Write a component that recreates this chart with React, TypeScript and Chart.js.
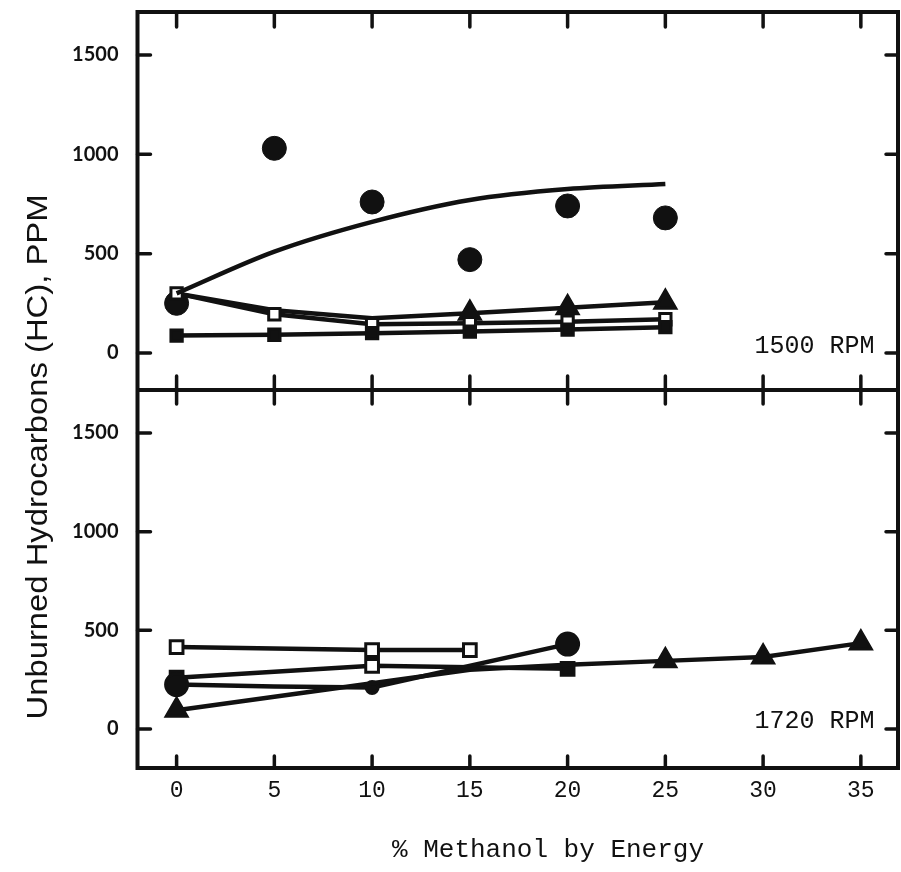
import { useEffect, useRef } from "react";
import { Chart, registerables } from "chart.js";

Chart.register(...registerables);

// ---- axis values ----
const methanolPct = [0, 5, 10, 15, 20, 25, 30, 35];
const yTickValues = [0, 500, 1000, 1500];

// ---- 1500 RPM panel (top) ----
const x1500 = [0, 5, 10, 15, 20, 25];
const circles1500 = [250, 1030, 760, 470, 740, 680];
const circleFit1500 = [300, 510, 660, 770, 825, 850];
const triangles1500 = [300, 215, 175, 200, 228, 255];
const openSquares1500 = [300, 195, 145, 150, 158, 170];
const filledSquares1500 = [88, 92, 100, 108, 118, 130];

// ---- 1720 RPM panel (bottom) ----
const xOpenSquares1720 = [0, 10, 15];
const openSquares1720 = [415, 400, 400];
const xFilledSquares1720 = [0, 10, 20];
const filledSquares1720 = [260, 320, 305];
const xCircles1720 = [0, 5, 10, 20];
const circles1720 = [225, 215, 210, 430];
const xTriangles1720 = [0, 15, 20, 25, 30, 35];
const triangles1720 = [95, 300, 325, 345, 365, 435];

const INK = "#111";

const pts = (xs: number[], ys: number[]) => xs.map((x, i) => ({ x, y: ys[i] }));

const framePlugin = {
  id: "frame",
  afterDraw(chart: any) {
    const { ctx, chartArea: a, scales } = chart;
    const xs = scales.x;
    const yt = scales.yTop;
    const yb = scales.yBot;
    const mid = yt.bottom;
    ctx.save();
    ctx.strokeStyle = INK;
    ctx.lineWidth = 4;
    ctx.lineJoin = "miter";
    ctx.strokeRect(a.left, a.top, a.right - a.left, a.bottom - a.top);
    ctx.beginPath();
    ctx.moveTo(a.left, mid);
    ctx.lineTo(a.right, mid);
    ctx.stroke();

    ctx.lineCap = "round";
    ctx.lineWidth = 3.5;
    ctx.beginPath();
    for (const v of methanolPct) {
      const px = xs.getPixelForValue(v);
      ctx.moveTo(px, a.top);
      ctx.lineTo(px, a.top + 15);
      ctx.moveTo(px, mid - 14);
      ctx.lineTo(px, mid + 14);
      ctx.moveTo(px, a.bottom);
      ctx.lineTo(px, a.bottom - 12);
    }
    for (const s of [yt, yb]) {
      for (const v of yTickValues) {
        const py = s.getPixelForValue(v);
        ctx.moveTo(a.left, py);
        ctx.lineTo(a.left + 13, py);
        ctx.moveTo(a.right, py);
        ctx.lineTo(a.right - 12, py);
      }
    }
    ctx.stroke();

    // panel labels
    ctx.fillStyle = INK;
    ctx.font = "25px 'Liberation Mono', 'DejaVu Sans Mono', monospace";
    ctx.textAlign = "right";
    ctx.textBaseline = "alphabetic";
    const rx = xs.getPixelForValue(35.7);
    ctx.fillText("1500 RPM", rx, yt.getPixelForValue(0));
    ctx.fillText("1720 RPM", rx, yb.getPixelForValue(5));

    // x title
    ctx.font = "26px 'Liberation Mono', 'DejaVu Sans Mono', monospace";
    ctx.textAlign = "center";
    ctx.textBaseline = "middle";
    ctx.fillText("% Methanol by Energy", 548, 850);

    // y title
    const title = "Unburned Hydrocarbons (HC), PPM";
    ctx.font = "30px 'Liberation Sans', Arial, sans-serif";
    const w = ctx.measureText(title).width;
    ctx.translate(39, 457);
    ctx.rotate(-Math.PI / 2);
    ctx.scale(525 / w, 1);
    ctx.fillText(title, 0, 0);
    ctx.restore();
  },
};

const yAxisCommon = {
  type: "linear",
  position: "left",
  stack: "panels",
  stackWeight: 1,
  grid: { display: false, drawTicks: false },
  border: { display: false },
  afterBuildTicks: (s: any) => {
    s.ticks = yTickValues.map((v) => ({ value: v }));
  },
  afterFit: (s: any) => {
    s.width = 137.5;
    s.paddingTop = 0;
    s.paddingBottom = 0;
  },
  ticks: {
    padding: 19,
    color: INK,
    callback: (v: number) => String(v),
    font: { family: "Lato, 'DejaVu Sans', sans-serif", size: 20, weight: "bold" },
  },
};

export default function App() {
  const ref = useRef<HTMLCanvasElement>(null);
  useEffect(() => {
    const canvas = ref.current!;
    const lineBase = {
      showLine: true,
      borderColor: INK,
      borderWidth: 4.5,
      pointBorderColor: INK,
      pointBorderWidth: 3,
    };
    const chart = new Chart(canvas, {
      type: "scatter",
      data: {
        datasets: [
          {
            ...lineBase,
            label: "fit 1500",
            data: pts(x1500, circleFit1500),
            yAxisID: "yTop",
            pointRadius: 0,
            cubicInterpolationMode: "monotone",
          },
          {
            ...lineBase,
            label: "filled squares 1500",
            data: pts(x1500, filledSquares1500),
            yAxisID: "yTop",
            pointStyle: "rect",
            pointRadius: 8,
            pointBackgroundColor: INK,
          },
          {
            ...lineBase,
            label: "open squares 1500",
            data: pts(x1500, openSquares1500),
            yAxisID: "yTop",
            pointStyle: "rect",
            pointRadius: 8,
            pointBackgroundColor: "#fff",
          },
          {
            ...lineBase,
            label: "triangles 1500",
            data: pts(x1500, triangles1500),
            yAxisID: "yTop",
            pointStyle: "triangle",
            pointRadius: [0, 0, 0, 12, 12, 12],
            pointBackgroundColor: INK,
          },
          {
            label: "circles 1500",
            data: pts(x1500, circles1500),
            yAxisID: "yTop",
            showLine: false,
            pointStyle: "circle",
            pointRadius: 12,
            pointBackgroundColor: INK,
            pointBorderColor: INK,
          },
          {
            ...lineBase,
            label: "triangles 1720",
            data: pts(xTriangles1720, triangles1720),
            yAxisID: "yBot",
            pointStyle: "triangle",
            pointRadius: [12, 0, 0, 12, 12, 12],
            pointBackgroundColor: INK,
          },
          {
            ...lineBase,
            label: "circles 1720",
            data: pts(xCircles1720, circles1720),
            yAxisID: "yBot",
            pointStyle: "circle",
            pointRadius: [11, 0, 6, 11],
            pointBackgroundColor: INK,
          },
          {
            ...lineBase,
            label: "filled squares 1720",
            data: pts(xFilledSquares1720, filledSquares1720),
            yAxisID: "yBot",
            pointStyle: "rect",
            pointRadius: 9,
            pointBackgroundColor: [INK, "#fff", INK],
          },
          {
            ...lineBase,
            label: "open squares 1720",
            data: pts(xOpenSquares1720, openSquares1720),
            yAxisID: "yBot",
            pointStyle: "rect",
            pointRadius: 9,
            pointBackgroundColor: "#fff",
          },
        ] as any,
      },
      options: {
        animation: false,
        responsive: false,
        devicePixelRatio: 1,
        layout: { autoPadding: false, padding: { top: 12, right: 3, left: 0, bottom: 0 } },
        plugins: { legend: { display: false }, tooltip: { enabled: false } },
        scales: {
          x: {
            type: "linear",
            position: "bottom",
            min: -2,
            max: 36.9,
            grid: { display: false, drawTicks: false },
            border: { display: false },
            afterBuildTicks: (s: any) => {
              s.ticks = methanolPct.map((v) => ({ value: v }));
            },
            afterFit: (s: any) => {
              s.height = 104;
              s.paddingLeft = 0;
              s.paddingRight = 0;
            },
            ticks: {
              padding: 9,
              color: INK,
              font: { family: "'Liberation Mono', 'DejaVu Sans Mono', monospace", size: 23 },
              maxRotation: 0,
              autoSkip: false,
            },
          },
          yBot: { ...yAxisCommon, min: -198, max: 1718 },
          yTop: { ...yAxisCommon, min: -186, max: 1716 },
        },
      } as any,
      plugins: [framePlugin],
    });
    return () => chart.destroy();
  }, []);
  return (
    <div style={{ position: "fixed", left: 0, top: 0, width: 901, height: 872, background: "#fff" }}>
      <canvas ref={ref} width={901} height={872} style={{ width: 901, height: 872, display: "block" }} />
    </div>
  );
}
